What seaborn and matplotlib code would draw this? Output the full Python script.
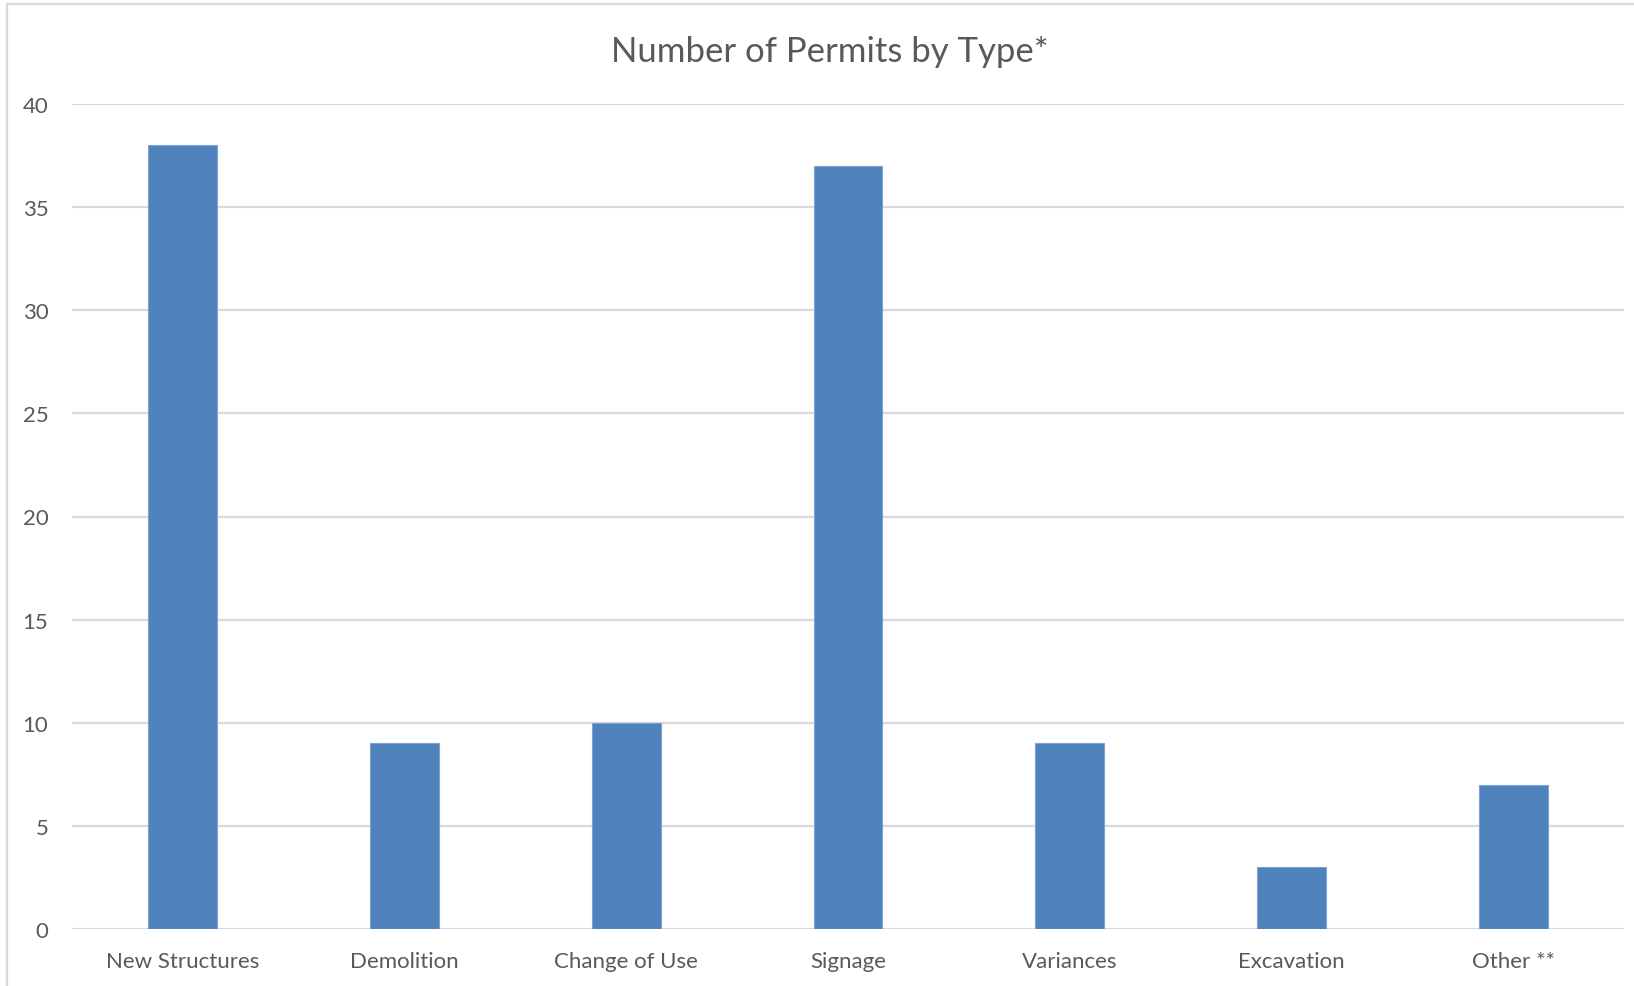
import matplotlib
matplotlib.use("Agg")
import matplotlib.pyplot as plt
import seaborn as sns
import pandas as pd
from matplotlib.patches import Rectangle

# Data
categories = ["New Structures", "Demolition", "Change of Use", "Signage",
              "Variances", "Excavation", "Other **"]
permits = [38, 9, 10, 37, 9, 3, 7]
y_ticks = [0, 5, 10, 15, 20, 25, 30, 35, 40]

df = pd.DataFrame({"type": categories, "count": permits})

sns.set_theme(style="white")
plt.rcParams["font.family"] = ["Lato", "DejaVu Sans"]

text_color = "#595959"
grid_color = "#d9d9d9"
bar_color = "#4f81bd"

fig = plt.figure(figsize=(16.34, 9.87), dpi=100)
bottom = 1 - 930 / 987
top = 1 - 105 / 987
ax = fig.add_axes([0.044, bottom, 0.9499, top - bottom])

sns.barplot(data=df, x="type", y="count", color=bar_color, width=0.31,
            saturation=1, edgecolor="#7fa3d0", linewidth=0.8, ax=ax, zorder=3)

ax.set_ylim(0, 40)
ax.set_yticks(y_ticks)
ax.set_xlim(-0.5, len(categories) - 0.5)
ax.yaxis.grid(True, color=grid_color, linewidth=1.6, zorder=0)
ax.set_axisbelow(True)
for side in ["top", "right", "left", "bottom"]:
    ax.spines[side].set_visible(False)
ax.set_xlabel("")
ax.set_ylabel("")
ax.tick_params(axis="y", length=0, pad=17, labelsize=16, labelcolor=text_color)
ax.tick_params(axis="x", length=0, pad=16, labelsize=16, labelcolor=text_color)

# title
fig.text(0.508, 1 - 62 / 987, "Number of Permits by Type*", ha="center",
         va="baseline", fontsize=25, color=text_color)

# chart frame, cut off at right and bottom like the original
fig.patches.append(Rectangle((7 / 1634, -0.1), 1.2, 1 - 5 / 987 + 0.1,
                             transform=fig.transFigure, fill=False,
                             edgecolor=grid_color, linewidth=1.6))

fig.savefig("out.png", dpi=100)
